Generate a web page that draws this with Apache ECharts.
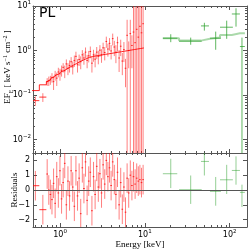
<!DOCTYPE html>
<html><head><meta charset="utf-8">
<script src="https://cdn.jsdelivr.net/npm/echarts@6/dist/echarts.min.js"></script>
<style>html,body{margin:0;padding:0;background:#fff}#c{width:249px;height:251px}</style>
</head><body><div id="c"></div>
<script>
// ---------- data ----------
const redEdges = [0.46, 0.57, 0.69, 0.721, 0.753, 0.786, 0.821, 0.857, 0.895, 0.935, 0.976, 1.02, 1.065, 1.112, 1.161, 1.213, 1.267, 1.323, 1.381, 1.443, 1.507, 1.573, 1.643, 1.716, 1.792, 1.872, 1.955, 2.041, 2.132, 2.227, 2.325, 2.429, 2.536, 2.649, 2.766, 2.889, 3.017, 3.151, 3.291, 3.437, 3.589, 3.749, 3.915, 4.089, 4.27, 4.46, 4.658, 4.864, 5.08, 5.306, 5.541, 5.787, 6.044, 6.312, 6.592, 6.885, 7.19, 7.509, 7.843, 8.191, 8.554, 8.934, 9.33, 9.744];
const redFlux = [0.075, 0.09, 0.20, 0.21, 0.22, 0.25, 0.20, 0.28, 0.24, 0.33,
  0.30, 0.36, 0.42, 0.35, 0.50, 0.40, 0.46, 0.56, 0.43, 0.60,
  0.74, 0.48, 0.63, 0.56, 0.80, 0.68, 0.92, 0.60, 0.76, 0.95,
  0.52, 0.80, 0.64, 0.92, 0.74, 1.02, 0.80, 1.15, 0.90, 1.6,
  1.08, 1.45, 0.98, 1.85, 1.2, 0.92, 1.5, 0.68, 1.25, 0.58,
  1.05, 0.40, 2.2, 1.0, 2.4, 1.3, 2.6, 1.5, 3.0, 2.0, 3.5, 2.5, 4.0];
const redErr = [0.018, 0.02, 0.04, 0.05, 0.05, 0.06, 0.07, 0.07, 0.08, 0.08,
  0.09, 0.1, 0.1, 0.11, 0.13, 0.12, 0.14, 0.15, 0.14, 0.17,
  0.2, 0.16, 0.18, 0.18, 0.22, 0.2, 0.25, 0.2, 0.22, 0.28,
  0.2, 0.24, 0.22, 0.28, 0.25, 0.3, 0.27, 0.35, 0.3, 0.45,
  0.35, 0.45, 0.35, 0.55, 0.45, 0.4, 0.55, 0.35, 0.5, 0.3,
  0.5, 0.25, 2.7, 0.6, 2.5, 0.9, 8, 8, 9, 9, 9, 9, 9];
const redModel = [0.126, 0.170, 0.200, 0.211, 0.226, 0.240, 0.254, 0.269, 0.282, 0.299,
  0.316, 0.333, 0.351, 0.368, 0.389, 0.407, 0.430, 0.450, 0.471, 0.492,
  0.513, 0.537, 0.562, 0.585, 0.608, 0.631, 0.655, 0.679, 0.703, 0.724,
  0.735, 0.745, 0.755, 0.766, 0.776, 0.787, 0.798, 0.809, 0.820, 0.832,
  0.843, 0.855, 0.867, 0.879, 0.891, 0.904, 0.916, 0.929, 0.942, 0.955,
  0.968, 0.982, 0.995, 1.009, 1.023, 1.037, 1.052, 1.067, 1.081, 1.096,
  1.112, 1.127, 1.143];
const redResid = [0.29, -1.33, 1.08, 0.0, -0.3, -0.65, 0.45, -0.9, 0.9, -0.2,
  1.3, -0.6, 0.5, 1.8, -1.0, 0.6, -0.4, 1.3, 0.2, -1.1,
  1.3, -0.4, 0.8, -1.6, 1.5, 0.1, 1.9, -0.7, 0.6, 1.2,
  -1.4, 0.9, -0.3, 1.6, 0.2, 1.1, -0.2, 1.7, 0.4, 2.0,
  0.9, 1.5, 0.3, 1.9, 0.7, -0.3, 1.2, -1.0, 0.5, -1.3,
  0.2, -1.5, 0.8, -0.2, 1.0, 0.3, 0.9, 0.4, 0.8, 0.6,
  0.7, 0.5, 0.7];
const redResidErr = 1;

const greenE = [20.2, 34.7, 50.3, 68.4, 92.2, 118.7, 139.6];
const greenLo = [16.3, 25.3, 45.9, 58.6, 76.9, 106, 132];
const greenHi = [24.1, 46.8, 57, 78.9, 109, 132, 151];
const greenFlux = [1.89, 1.62, 3.57, 1.89, 3.34, 6.62, 1.23];
const greenFluxLo = [1.54, 1.35, 2.8, 1.04, 1.83, 3.44, 0.0001];
const greenFluxHi = [2.32, 1.95, 4.2, 2.66, 4.69, 8.9, 1.95];
const greenModel = [1.89, 1.67, 1.83, 1.95, 2.24, 2.45, 2.45];
const greenResid = [1.10, 0.02, 1.93, -0.09, 0.69, 1.32, -0.16];
const greenResidLo = [0.13, -0.94, 0.98, -1.06, -0.27, 0.36, -1.15];
const greenResidHi = [2.11, 0.98, 2.9, 0.88, 1.7, 2.27, 0.36];

const xRange = [0.48, 160];
const yRange = [0.005, 10];
const residRange = [-2.5, 2.5];
const minorMult = [2, 3, 4, 5, 6, 7, 8, 9];
const decadesX = [0.1, 1, 10, 100];
const decadesY = [0.001, 0.01, 0.1, 1];

// ---------- build ----------
const FONT = 'DejaVu Sans';
const SERIF = 'Liberation Serif';
const AX = '#555';
const RED_BAR = 'rgba(255,0,0,0.5)';
const RED_H = 'rgba(255,0,0,0.8)';
const RED_MODEL = 'rgba(255,0,0,0.85)';
const GREEN_BAR = 'rgba(44,160,44,0.75)';
const GREEN_MODEL = 'rgba(44,160,44,0.4)';

const redTop = [], redRes = [], redStep = [];
for (let i = 0; i < redFlux.length; i++) {
  const lo = redEdges[i], hi = redEdges[i + 1];
  const xc = Math.sqrt(lo * hi);
  redTop.push([xc, redFlux[i], lo, hi, Math.max(redFlux[i] - redErr[i], 1e-6), redFlux[i] + redErr[i]]);
  redRes.push([xc, redResid[i], lo, hi, redResid[i] - redResidErr, redResid[i] + redResidErr]);
  redStep.push([lo, redModel[i]]);
}
redStep.push([redEdges[redEdges.length - 1], redModel[redModel.length - 1]]);

const greenTop = [], greenRes = [], greenStep = [];
for (let i = 0; i < greenE.length; i++) {
  greenTop.push([greenE[i], greenFlux[i], greenLo[i], greenHi[i], greenFluxLo[i], greenFluxHi[i]]);
  greenRes.push([greenE[i], greenResid[i], greenLo[i], greenHi[i], greenResidLo[i], greenResidHi[i]]);
  greenStep.push([greenLo[i], greenModel[i]]);
}
greenStep.push([greenHi[greenHi.length - 1], greenModel[greenModel.length - 1]]);

const minorX = [], minorY = [];
decadesX.forEach(d => minorMult.forEach(k => { const v = k * d; if (v > xRange[0] && v < xRange[1]) minorX.push(v); }));
decadesY.forEach(d => minorMult.forEach(k => { const v = k * d; if (v > yRange[0] && v < yRange[1]) minorY.push(v); }));

function errItem(vColor, hColor) {
  return function (params, api) {
    const cs = params.coordSys;
    const L = cs.x, R = cs.x + cs.width, T = cs.y, B = cs.y + cs.height;
    const xc = api.value(0), yc = api.value(1);
    const c = api.coord([xc, yc]);
    const a = api.coord([api.value(2), yc]);
    const b = api.coord([api.value(3), yc]);
    const lo = api.coord([xc, api.value(4)]);
    const hi = api.coord([xc, api.value(5)]);
    const kids = [];
    const clx = v => Math.min(Math.max(v, L), R);
    const cly = v => Math.min(Math.max(v, T), B);
    if (c[0] >= L && c[0] <= R) {
      const y1 = cly(lo[1]), y2 = cly(hi[1]);
      if (Math.abs(y1 - y2) > 0.1) kids.push({type: 'line', shape: {x1: c[0], y1: y1, x2: c[0], y2: y2}, style: {stroke: vColor, lineWidth: 1}});
    }
    if (c[1] >= T && c[1] <= B) {
      const x1 = clx(a[0]), x2 = clx(b[0]);
      if (Math.abs(x1 - x2) > 0.1) kids.push({type: 'line', shape: {x1: x1, y1: c[1], x2: x2, y2: c[1]}, style: {stroke: hColor, lineWidth: 1}});
    }
    return {type: 'group', children: kids};
  };
}
function xMinorItem(params, api) {
  const cs = params.coordSys;
  const p = api.coord([api.value(0), api.value(1)]);
  const x = Math.round(p[0]) + 0.5;
  const T = cs.y, B = cs.y + cs.height;
  if (x <= cs.x + 1 || x >= cs.x + cs.width - 1) return {type: 'group', children: []};
  return {type: 'group', children: [
    {type: 'line', shape: {x1: x, y1: B, x2: x, y2: B - 2}, style: {stroke: AX, lineWidth: 1}},
    {type: 'line', shape: {x1: x, y1: T, x2: x, y2: T + 2}, style: {stroke: AX, lineWidth: 1}}]};
}
function yMinorItem(params, api) {
  const cs = params.coordSys;
  const p = api.coord([api.value(0), api.value(1)]);
  const y = Math.round(p[1]) + 0.5;
  const L = cs.x, R = cs.x + cs.width;
  if (y <= cs.y + 1 || y >= cs.y + cs.height - 1) return {type: 'group', children: []};
  return {type: 'group', children: [
    {type: 'line', shape: {x1: L, y1: y, x2: L + 2, y2: y}, style: {stroke: AX, lineWidth: 1}},
    {type: 'line', shape: {x1: R, y1: y, x2: R - 2, y2: y}, style: {stroke: AX, lineWidth: 1}}]};
}

function powLabel(v) {
  const l = Math.log10(v), r = Math.round(l);
  if (Math.abs(l - r) > 1e-6) return '';
  return '{b|10}{s|' + (r < 0 ? '\u2212' + (-r) : r) + '}';
}
const richTick = {
  b: {fontSize: 8, fontFamily: FONT, color: '#000', lineHeight: 12},
  s: {fontSize: 5.5, fontFamily: FONT, color: '#000', lineHeight: 5, verticalAlign: 'top'}
};
function axisBase(extra) {
  return Object.assign({
    axisLine: {show: true, onZero: false, lineStyle: {color: AX, width: 1}},
    axisTick: {show: true, inside: true, length: 4, lineStyle: {color: AX, width: 1}},
    axisLabel: {show: false},
    splitLine: {show: false},
    minorTick: {show: false}
  }, extra);
}

const chart = echarts.init(document.getElementById('c'), null, {renderer: 'canvas', width: 249, height: 251});
chart.setOption({
  animation: false,
  backgroundColor: '#fff',
  textStyle: {fontFamily: FONT},
  grid: [
    {left: 33, top: 6, width: 214, height: 147, containLabel: false, outerBoundsMode: 'none'},
    {left: 33, top: 153, width: 214, height: 74, containLabel: false, outerBoundsMode: 'none'}
  ],
  xAxis: [
    axisBase({type: 'log', logBase: 10, gridIndex: 0, position: 'bottom', min: xRange[0], max: xRange[1]}),
    axisBase({type: 'log', logBase: 10, gridIndex: 0, position: 'top', min: xRange[0], max: xRange[1]}),
    axisBase({type: 'log', logBase: 10, gridIndex: 1, position: 'bottom', min: xRange[0], max: xRange[1],
      axisLabel: {show: true, margin: 2, formatter: powLabel, rich: richTick, showMinLabel: true, showMaxLabel: true, hideOverlap: false}}),
    axisBase({type: 'log', logBase: 10, gridIndex: 1, position: 'top', min: xRange[0], max: xRange[1]})
  ],
  yAxis: [
    axisBase({type: 'log', logBase: 10, gridIndex: 0, position: 'left', min: yRange[0], max: yRange[1],
      axisLabel: {show: true, margin: 2, formatter: powLabel, rich: richTick, hideOverlap: false}}),
    axisBase({type: 'log', logBase: 10, gridIndex: 0, position: 'right', min: yRange[0], max: yRange[1]}),
    axisBase({type: 'value', gridIndex: 1, position: 'left', min: residRange[0], max: residRange[1],
      axisLabel: {show: true, margin: 3, fontSize: 8, color: '#000', fontFamily: FONT,
        formatter: v => Math.abs(v - Math.round(v)) > 1e-6 ? '' : String(v).replace('-', '\u2212')}}),
    axisBase({type: 'value', gridIndex: 1, position: 'right', min: residRange[0], max: residRange[1]})
  ],
  series: [
    {type: 'custom', xAxisIndex: 0, yAxisIndex: 0, renderItem: xMinorItem, data: minorX.map(v => [v, 1]), encode: {x: 0, y: 1}, silent: true},
    {type: 'custom', xAxisIndex: 0, yAxisIndex: 0, renderItem: yMinorItem, data: minorY.map(v => [1, v]), encode: {x: 0, y: 1}, silent: true},
    {type: 'custom', xAxisIndex: 2, yAxisIndex: 2, renderItem: xMinorItem, data: minorX.map(v => [v, 0]), encode: {x: 0, y: 1}, silent: true},
    {type: 'line', xAxisIndex: 0, yAxisIndex: 0, step: 'end', data: redStep, showSymbol: false, symbol: 'none',
      lineStyle: {color: RED_MODEL, width: 1}, silent: true, z: 3},
    {type: 'custom', xAxisIndex: 0, yAxisIndex: 0, renderItem: errItem(RED_BAR, RED_H), data: redTop, encode: {x: 0, y: 1}, silent: true, z: 2},
    {type: 'line', xAxisIndex: 0, yAxisIndex: 0, step: 'end', data: greenStep, showSymbol: false, symbol: 'none',
      lineStyle: {color: GREEN_MODEL, width: 2}, silent: true, z: 2},
    {type: 'custom', xAxisIndex: 0, yAxisIndex: 0, renderItem: errItem(GREEN_BAR, GREEN_BAR), data: greenTop, encode: {x: 0, y: 1}, silent: true, z: 3},
    {type: 'custom', xAxisIndex: 2, yAxisIndex: 2, renderItem: errItem(RED_BAR, RED_H), data: redRes, encode: {x: 0, y: 1}, silent: true, z: 2,
      markLine: {silent: true, symbol: 'none', label: {show: false}, lineStyle: {color: AX, type: 'solid', width: 1}, data: [{yAxis: 0}]}},
    {type: 'custom', xAxisIndex: 2, yAxisIndex: 2, renderItem: errItem('rgba(44,160,44,0.5)', 'rgba(44,160,44,0.5)'), data: greenRes, encode: {x: 0, y: 1}, silent: true, z: 3}
  ],
  graphic: [
    {type: 'text', left: 39, top: 6, style: {text: 'PL', fontSize: 14, fontFamily: FONT, fill: '#000'}},
    {type: 'text', x: 140, y: 245, style: {text: 'Energy [keV]', font: '9px "Liberation Serif"', fill: '#000', align: 'center', verticalAlign: 'middle', textAlign: 'center', textVerticalAlign: 'middle'}},
    {type: 'text', x: 15, y: 190, rotation: Math.PI / 2, style: {text: 'Residuals', font: '9px "Liberation Serif"', fill: '#000', align: 'center', verticalAlign: 'middle', textAlign: 'center', textVerticalAlign: 'middle'}},
    {type: 'text', x: 8, y: 67, rotation: Math.PI / 2, style: {
      text: '{n|EF}{sub|E}{n| [ keV s}{sup|\u22121}{n| cm}{sup|\u22122}{n| ]}',
      rich: {
        n: {fontSize: 9, fontFamily: SERIF, fill: '#000', color: '#000', lineHeight: 12},
        sub: {fontSize: 6, fontFamily: SERIF, fill: '#000', color: '#000', lineHeight: 5, verticalAlign: 'bottom'},
        sup: {fontSize: 6, fontFamily: SERIF, fill: '#000', color: '#000', lineHeight: 5, verticalAlign: 'top'}
      },
      align: 'center', verticalAlign: 'middle', textAlign: 'center', textVerticalAlign: 'middle'}}
  ]
});
</script></body></html>
